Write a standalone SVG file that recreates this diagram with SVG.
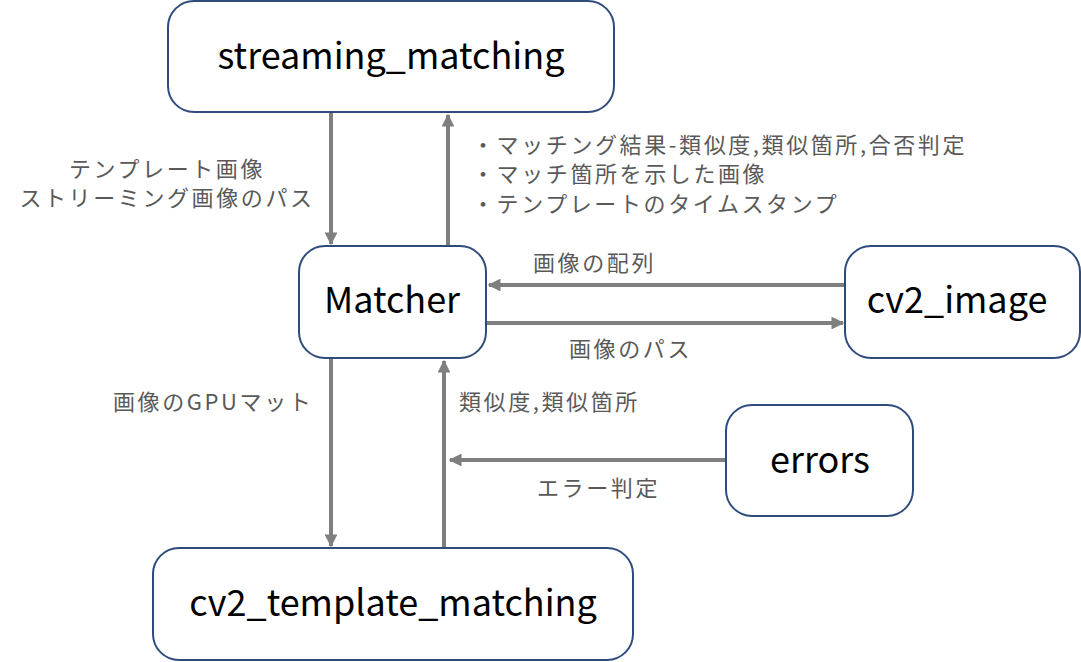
<svg xmlns="http://www.w3.org/2000/svg" width="1081" height="662" viewBox="0 0 1081 662">
<defs>
<marker id="ah" viewBox="0 0 10 10" refX="9" refY="5" markerWidth="3.2" markerHeight="3.2" orient="auto" markerUnits="strokeWidth">
<path d="M0,0 L10,5 L0,10 z" fill="#7f7f7f"/>
</marker>
<style>
.node rect{fill:#fff;stroke:#2f4b7c;stroke-width:2}
.node text{font-family:"Noto Sans CJK JP","Noto Sans",sans-serif;font-size:36px;fill:#000;text-anchor:middle;dominant-baseline:central}
.conn line{stroke:#7f7f7f;stroke-width:4;marker-end:url(#ah)}
.lbl{font-family:"Noto Sans CJK JP",sans-serif;font-size:22px;fill:#595959;letter-spacing:2.6px}
</style>
</defs>
<rect width="1081" height="662" fill="#fff"/>
<g id="connectors" class="conn">
<line x1="331" y1="113" x2="331" y2="244"/>
<line x1="448" y1="246" x2="448" y2="115"/>
<line x1="845" y1="285" x2="489" y2="285"/>
<line x1="487" y1="323" x2="843" y2="323"/>
<line x1="331" y1="358" x2="331" y2="546"/>
<line x1="444" y1="548" x2="444" y2="361"/>
<line x1="726" y1="460" x2="450" y2="460"/>
</g>
<g id="labels" class="lbl">
<text x="167" y="177" text-anchor="middle">テンプレート画像</text>
<text x="167" y="206" text-anchor="middle">ストリーミング画像のパス</text>
<text x="472" y="153">・マッチング結果-類似度,類似箇所,合否判定</text>
<text x="472" y="182">・マッチ箇所を示した画像</text>
<text x="472" y="212">・テンプレートのタイムスタンプ</text>
<text x="533" y="271">画像の配列</text>
<text x="569" y="357">画像のパス</text>
<text x="113" y="410">画像のGPUマット</text>
<text x="459" y="410">類似度,類似箇所</text>
<text x="537" y="496">エラー判定</text>
</g>
<g id="streaming_matching" class="node"><rect x="168" y="1" width="446" height="111" rx="26"/><text x="391" y="53">streaming_matching</text></g>
<g id="Matcher" class="node"><rect x="299" y="246" width="187" height="112" rx="26"/><text x="392" y="297">Matcher</text></g>
<g id="cv2_image" class="node"><rect x="845" y="246" width="235" height="112" rx="26"/><text x="957" y="297">cv2_image</text></g>
<g id="errors" class="node"><rect x="726" y="405" width="187" height="111" rx="26"/><text x="820" y="457">errors</text></g>
<g id="cv2_template_matching" class="node"><rect x="153" y="548" width="480" height="112" rx="26"/><text x="393" y="600">cv2_template_matching</text></g>
</svg>
